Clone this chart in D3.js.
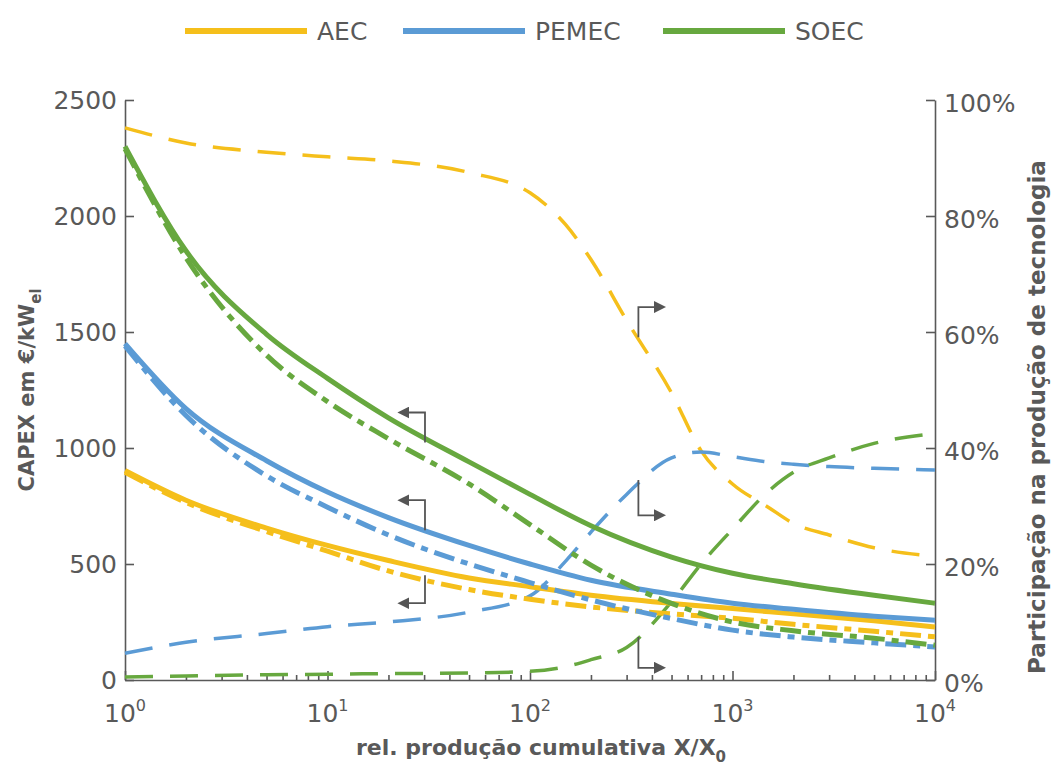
<!DOCTYPE html>
<html>
<head>
<meta charset="utf-8">
<script src="https://cdn.jsdelivr.net/npm/d3@7"></script>
<style>
  body { margin: 0; background: #fff; }
  svg { display: block; }
  text { font-family: "DejaVu Sans", "Liberation Sans", sans-serif; fill: #595959; }
</style>
</head>
<body>
<svg id="chart" width="1055" height="771"></svg>
<script>
// cumulative production (relative) for the CAPEX curves
const xs = [1, 2, 5, 10, 20, 50, 100, 200, 500, 1000, 2000, 5000, 10000];
// CAPEX in €/kW_el, solid = first scenario, dash-dot = second
const aecSolid   = [903, 775, 655, 580, 515, 440, 402, 365, 330, 308, 285, 255, 228];
const aecDash    = [895, 765, 640, 555, 470, 390, 348, 315, 285, 266, 240, 210, 186];
const pemSolid   = [1450, 1170, 945, 810, 700, 580, 500, 430, 370, 331, 305, 275, 258];
const pemDash    = [1440, 1140, 880, 745, 625, 500, 420, 345, 265, 215, 185, 160, 142];
const soecSolid  = [2300, 1850, 1490, 1300, 1130, 940, 800, 665, 530, 460, 415, 365, 331];
const soecDash   = [2290, 1820, 1400, 1200, 1040, 845, 670, 495, 330, 250, 212, 180, 150];

// share of technology production (%), right axis
const xsShare   = [1, 2, 5, 10, 20, 50, 100, 150, 200, 300, 500, 700, 1000, 1500, 2000, 3000, 5000, 10000];
const aecShare  = [95.2, 92.6, 91, 90.2, 89.5, 87.5, 84, 78.5, 72.5, 62, 49.5, 39.5, 33.8, 29.8, 27, 25, 22.8, 21.3];
const pemShare  = [4.6, 6.5, 8, 9.2, 10, 11.7, 14.5, 20.5, 25.5, 32, 38.3, 39.3, 38.5, 37.6, 37.2, 36.8, 36.5, 36.2];
const soecShare = [0.5, 0.7, 0.9, 1.0, 1.1, 1.2, 1.5, 2.3, 3.5, 5.6, 13.5, 20, 26, 32.5, 35.8, 38.3, 40.8, 42.5];

const techs = ["AEC", "PEMEC", "SOEC"];
const colors = { AEC: "#F5BF1B", PEMEC: "#5B9BD5", SOEC: "#67A83F" };

const yTicks = [0, 500, 1000, 1500, 2000, 2500];
const yrTicks = [0, 20, 40, 60, 80, 100];
const xDecades = [0, 1, 2, 3, 4];

// annotation arrows in data coordinates: [x at bend, from value, to value]
const leftArrows = [[30.3, 1024, 1153], [30.3, 645, 775], [30.3, 452, 331]];
const rightArrows = [[343, 59.1, 64.3], [343, 34.5, 28.4], [343, 7.4, 2.1]];

const svg = d3.select("#chart");
const margin = { left: 125, right: 120, top: 100, bottom: 91 };
const W = 1055, H = 771;

const x = d3.scaleLog().domain([1, 10000]).range([margin.left, W - margin.right]);
const y = d3.scaleLinear().domain([0, 2500]).range([H - margin.bottom, margin.top]);
const yr = d3.scaleLinear().domain([0, 100]).range([H - margin.bottom, margin.top]);

const axisColor = "#595959";

// axes
const minor = [];
for (let e = 0; e < 4; e++) for (let m = 2; m <= 9; m++) minor.push(m * 10 ** e);

const gx = svg.append("g").attr("transform", `translate(0,${y(0)})`);
gx.call(d3.axisBottom(x).tickValues(minor).tickSize(-5).tickSizeOuter(0).tickFormat(""));
gx.call(g => g.select(".domain").remove());
const gx2 = svg.append("g").attr("transform", `translate(0,${y(0)})`);
gx2.call(d3.axisBottom(x).tickValues(xDecades.map(e => 10 ** e)).tickSize(-9).tickSizeOuter(0).tickFormat(""));

const gy = svg.append("g").attr("transform", `translate(${x(1)},0)`);
gy.call(d3.axisLeft(y).tickValues(yTicks).tickSize(-9).tickSizeOuter(0).tickPadding(8).tickFormat(d3.format("d")));

const gyr = svg.append("g").attr("transform", `translate(${x(10000)},0)`);
gyr.call(d3.axisRight(yr).tickValues(yrTicks).tickSize(-9).tickSizeOuter(0).tickPadding(9).tickFormat(d => d + "%"));

svg.selectAll(".domain, .tick line").attr("stroke", axisColor).attr("stroke-width", 1.6);
gy.selectAll("text").attr("font-size", 25).attr("fill", axisColor);
gyr.selectAll("text").attr("font-size", 25).attr("fill", axisColor).attr("dy", "0.45em");

xDecades.forEach(e => {
  const t = svg.append("text")
    .attr("x", x(10 ** e))
    .attr("y", y(0) + 42)
    .attr("text-anchor", "middle")
    .attr("font-size", 25);
  t.append("tspan").text("10");
  t.append("tspan").attr("dy", -11).attr("font-size", 16).text(e);
});

// lines
const line = (xv) => d3.line().x((d, i) => x(xv[i])).curve(d3.curveMonotoneX);

const capex = [
  ["AEC", aecSolid, aecDash],
  ["PEMEC", pemSolid, pemDash],
  ["SOEC", soecSolid, soecDash]
];
const shares = [
  ["AEC", aecShare],
  ["PEMEC", pemShare],
  ["SOEC", soecShare]
];

const plot = svg.append("g");

shares.forEach(([k, vals]) => {
  plot.append("path")
    .attr("d", line(xsShare).y(d => yr(d))(vals))
    .attr("fill", "none")
    .attr("stroke", colors[k])
    .attr("stroke-width", 3.5)
    .attr("stroke-dasharray", "28,17");
});

capex.forEach(([k, solid, dash]) => {
  plot.append("path")
    .attr("d", line(xs).y(d => y(d))(dash))
    .attr("fill", "none")
    .attr("stroke", colors[k])
    .attr("stroke-width", 5)
    .attr("stroke-dasharray", "21,7,7,7");
  plot.append("path")
    .attr("d", line(xs).y(d => y(d))(solid))
    .attr("fill", "none")
    .attr("stroke", colors[k])
    .attr("stroke-width", 5);
});

// arrows
svg.append("defs").append("marker")
  .attr("id", "head")
  .attr("viewBox", "0 0 10 10")
  .attr("refX", 2).attr("refY", 5)
  .attr("markerWidth", 12).attr("markerHeight", 12)
  .attr("markerUnits", "userSpaceOnUse")
  .attr("orient", "auto")
  .append("path").attr("d", "M0,0 L10,5 L0,10 Z").attr("fill", "#555");

const armLen = 18;
leftArrows.forEach(([xv, a, b]) => {
  const px = x(xv);
  plot.append("path")
    .attr("d", `M${px},${y(a)} V${y(b)} H${px - armLen}`)
    .attr("fill", "none").attr("stroke", "#555").attr("stroke-width", 1.8)
    .attr("marker-end", "url(#head)");
});
rightArrows.forEach(([xv, a, b]) => {
  const px = x(xv);
  plot.append("path")
    .attr("d", `M${px},${yr(a)} V${yr(b)} H${px + armLen}`)
    .attr("fill", "none").attr("stroke", "#555").attr("stroke-width", 1.8)
    .attr("marker-end", "url(#head)");
});

// axis titles
const xt = svg.append("text")
  .attr("x", 541).attr("y", 755)
  .attr("text-anchor", "middle")
  .attr("font-size", 22).attr("font-weight", "bold");
xt.append("tspan").text("rel. produção cumulativa X/X");
xt.append("tspan").attr("dy", 7).attr("font-size", 15).text("0");

const yt = svg.append("text")
  .attr("transform", `translate(34,${(y(0) + y(2500)) / 2}) rotate(-90)`)
  .attr("text-anchor", "middle")
  .attr("font-size", 21).attr("font-weight", "bold");
yt.append("tspan").text("CAPEX em €/kW");
yt.append("tspan").attr("dy", 7).attr("font-size", 15).text("el");

svg.append("text")
  .attr("transform", `translate(1045,417) rotate(-90)`)
  .attr("text-anchor", "middle")
  .attr("font-size", 23).attr("font-weight", "bold")
  .text("Participação na produção de tecnologia");

// legend
const legX = [185, 403, 663];
techs.forEach((k, i) => {
  const g = svg.append("g").attr("transform", `translate(${legX[i]},31)`);
  g.append("line").attr("x1", 0).attr("x2", 122)
    .attr("stroke", colors[k]).attr("stroke-width", 6);
  g.append("text").attr("x", 132).attr("y", 9).attr("font-size", 25).text(k);
});
</script>
</body>
</html>
